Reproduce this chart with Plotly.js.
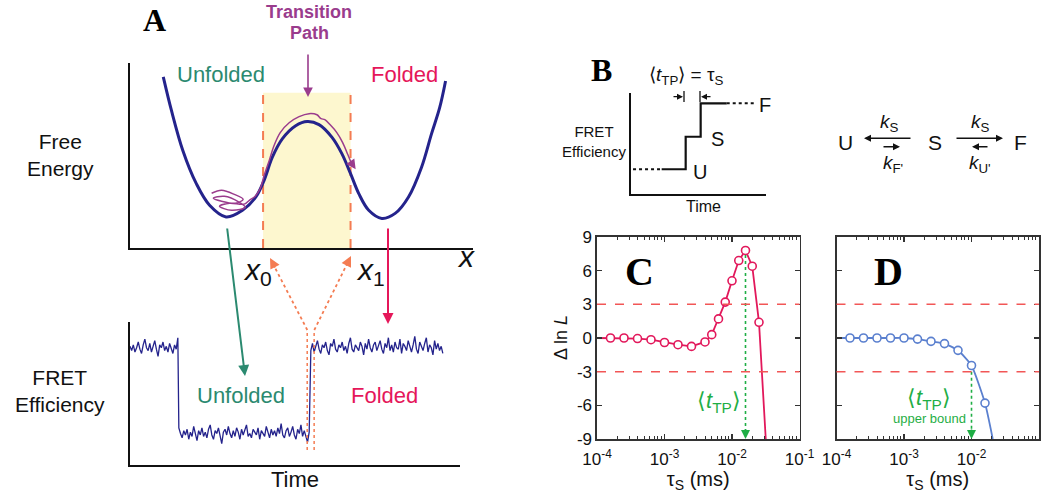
<!DOCTYPE html>
<html><head><meta charset="utf-8">
<script src="https://cdn.plot.ly/plotly-3.0.1.min.js"></script>
<style>html,body{margin:0;padding:0;background:#fff}#chart{width:1050px;height:493px}</style>
</head><body><div id="chart"></div>
<script>
// ---------- Panel A (top): free-energy profile, arbitrary units ----------
const wellX = [9.7,12.1,15.4,19.3,23.2,28.0,32.8,36.7,39.1,41.5,44.4,48.3,51.7,55.1,58.9,61.8,64.3,66.7,69.6,73.4,77.3,81.2,85.0,87.9,90.3,92.0];
const wellG = [92.5,74.2,52.7,34.9,23.1,16.8,20.4,27.6,36.6,49.1,59.0,66.1,68.4,66.7,59.8,50.9,40.2,29.4,20.4,16.0,18.7,27.6,43.7,61.7,76.0,90.3];
const pathX = [23.8,26.7,30.4,33.0,30.7,26.7,24.3,27.5,31.9,33.6,29.6,26.1,29.0,33.3,34.8,36.5,38.0,39.1,40.6,42.0,43.8,46.4,49.3,52.2,54.5,55.7,56.8,58.3,60.3,62.0,63.5,64.9];
const pathG = [29.6,31.2,29.0,26.3,24.2,25.3,26.9,28.0,24.7,22.0,20.4,22.6,24.2,23.7,25.8,28.0,32.3,39.2,47.3,55.4,62.4,67.7,71.0,72.6,72.0,69.9,69.4,66.7,62.4,57.0,50.5,44.0];
const barrierEdges = [38.8, 64.3];   // x0, x1
const barrierTop = 83.9;

// ---------- Panel A (bottom): FRET efficiency trace ----------
const dt = 0.5;
const tStart1 = 0, tStart2 = 14.8, tStart3 = 54.8;
const fretHigh1 = [0.83,0.80,0.84,0.79,0.82,0.86,0.81,0.78,0.84,0.88,0.82,0.80,0.85,0.79,0.83,0.87,0.81,0.76,0.84,0.82,0.86,0.80,0.83,0.79,0.85,0.82,0.78,0.84,0.81,0.89];
const fretLow = [0.26,0.22,0.19,0.24,0.21,0.25,0.18,0.23,0.20,0.27,0.22,0.17,0.24,0.21,0.26,0.20,0.23,0.19,0.25,0.28,0.21,0.18,0.24,0.22,0.26,0.20,0.15,0.23,0.25,0.21,0.27,0.22,0.19,0.24,0.20,0.26,0.23,0.18,0.25,0.21,0.24,0.28,0.20,0.22,0.19,0.25,0.23,0.21,0.26,0.18,0.24,0.22,0.20,0.27,0.23,0.19,0.25,0.21,0.24,0.20,0.26,0.22,0.29,0.21,0.19,0.24,0.26,0.20,0.23,0.27,0.21,0.18,0.25,0.22,0.28,0.20,0.24,0.19,0.16,0.23];
const fretHigh2 = [0.80,0.85,0.79,0.83,0.87,0.81,0.78,0.84,0.82,0.86,0.80,0.77,0.85,0.83,0.88,0.81,0.79,0.84,0.82,0.86,0.80,0.83,0.78,0.85,0.89,0.81,0.79,0.84,0.82,0.80,0.86,0.83,0.77,0.85,0.81,0.88,0.82,0.79,0.84,0.86,0.80,0.83,0.87,0.81,0.78,0.85,0.82,0.89,0.80,0.84,0.79,0.86,0.82,0.81,0.88,0.78,0.85,0.83,0.80,0.87,0.82,0.79,0.84,0.90,0.81,0.78,0.86,0.83,0.80,0.85,0.89,0.79,0.84,0.82,0.77,0.87,0.81,0.85,0.80,0.83,0.78];
const jumpWindow = [53.7, 55.8];

// ---------- Panel B: step schematic and scheme ----------
const stepT = [22.7,40.5,40.5,51.6,51.6,70.9];
const stepE = [24.5,24.5,56.7,56.7,89.8,89.8];
const preT = [1.5,22.7], postT = [70.9,91.9];

// ---------- Panel C ----------
const tauC = [1.585e-4,2.512e-4,3.981e-4,6.310e-4,1.0e-3,1.585e-3,2.512e-3,3.981e-3,5.012e-3,6.310e-3,7.943e-3,1.0e-2,1.259e-2,1.585e-2,1.995e-2,2.512e-2];
const dlnLC = [0.0,0.0,-0.05,-0.15,-0.4,-0.6,-0.75,-0.35,0.3,1.7,3.2,5.1,6.9,7.8,6.4,1.4];
const tauCEnds = [1e-4, 3.162e-2];
const dlnLCEnds = [0.0, -9.0];
// ---------- Panel D ----------
const tauD = [1.585e-4,2.512e-4,3.981e-4,6.310e-4,1.0e-3,1.585e-3,2.512e-3,3.981e-3,6.310e-3,1.0e-2,1.585e-2];
const dlnLD = [0.0,0.0,0.0,0.0,0.0,-0.1,-0.3,-0.5,-1.1,-2.45,-5.8];
const tauDEnds = [1e-4, 2.065e-2];
const dlnLDEnds = [0.0, -9.0];
const threshold = [3, -3];
const xTickVals = [1e-4,1e-3,1e-2,1e-1];
const xTickText = ['10<sup>-4</sup>','10<sup>-3</sup>','10<sup>-2</sup>','10<sup>-1</sup>'];
const yTickVals = [-9,-6,-3,0,3,6,9];
const yTickText = ['-9','-6','-3','0','3','6','9'];

// ---------- helpers ----------
const W = 1050, H = 493;
const X = p => p / W, Y = p => 1 - p / H;
const SANS = 'Liberation Sans, Arial, sans-serif';
const SERIF = 'Liberation Serif, Times New Roman, serif';
const NAVY = '#24238c', PURPLE = '#9a3c8d', TEAL = '#2b8a70', RED = '#e5175a', ORANGE = '#f47c52', GREEN = '#1fae45';
const CRED = '#e2185b', CBLUE = '#5b80cf';

const seq = (start, n) => Array.from({length: n}, (_, i) => +(start + i * dt).toFixed(2));
const fretT = [].concat(seq(tStart1, fretHigh1.length), seq(tStart2, fretLow.length), seq(tStart3, fretHigh2.length));
const fretE = [].concat(fretHigh1, fretLow, fretHigh2);

const minorVals = [];
[1e-4,1e-3,1e-2].forEach(d => { for (let k = 2; k <= 9; k++) minorVals.push(k * d); });

const traces = [
  {x: wellX, y: wellG, xaxis: 'x', yaxis: 'y', mode: 'lines', line: {color: NAVY, width: 3, shape: 'spline', smoothing: 1}},
  {x: pathX, y: pathG, xaxis: 'x', yaxis: 'y', mode: 'lines', line: {color: PURPLE, width: 1.5, shape: 'spline', smoothing: 1}},
  {x: fretT, y: fretE, xaxis: 'x2', yaxis: 'y2', mode: 'lines', line: {color: NAVY, width: 1.3}},
  {x: stepT, y: stepE, xaxis: 'x3', yaxis: 'y3', mode: 'lines', line: {color: '#111', width: 2.2}},
  {x: preT, y: [stepE[0], stepE[0]], xaxis: 'x3', yaxis: 'y3', mode: 'lines', line: {color: '#111', width: 2, dash: 'dot'}},
  {x: postT, y: [stepE[5], stepE[5]], xaxis: 'x3', yaxis: 'y3', mode: 'lines', line: {color: '#111', width: 2, dash: 'dot'}},
  // C
  {x: [tauCEnds[0]].concat(tauC, [tauCEnds[1]]), y: [dlnLCEnds[0]].concat(dlnLC, [dlnLCEnds[1]]), xaxis: 'x4', yaxis: 'y4', mode: 'lines', line: {color: CRED, width: 1.8}},
  {x: tauC, y: dlnLC, xaxis: 'x4', yaxis: 'y4', mode: 'markers', marker: {symbol: 'circle', size: 8, color: 'white', line: {color: CRED, width: 1.6}}},
  // D
  {x: [tauDEnds[0]].concat(tauD, [tauDEnds[1]]), y: [dlnLDEnds[0]].concat(dlnLD, [dlnLDEnds[1]]), xaxis: 'x5', yaxis: 'y5', mode: 'lines', line: {color: CBLUE, width: 1.8, shape: 'spline', smoothing: 0.5}},
  {x: tauD, y: dlnLD, xaxis: 'x5', yaxis: 'y5', mode: 'markers', marker: {symbol: 'circle', size: 8, color: 'white', line: {color: CBLUE, width: 1.6}}}
];

// green dotted markers: C at the peak, D where curve crosses -3
const iPeak = dlnLC.indexOf(Math.max(...dlnLC));
const tPeak = tauC[iPeak];
const tUpper = tauD[dlnLD.findIndex(v => v < threshold[1] + 1)];
traces.push({x: [tPeak, tPeak], y: [dlnLC[iPeak] - 0.4, -8.6], xaxis: 'x4', yaxis: 'y4', mode: 'lines', line: {color: GREEN, width: 1.6, dash: 'dot'}});
traces.push({x: [tUpper, tUpper], y: [threshold[1], -8.6], xaxis: 'x5', yaxis: 'y5', mode: 'lines', line: {color: GREEN, width: 1.6, dash: 'dot'}});

const plainAxis = extra => Object.assign({showgrid: false, zeroline: false, showticklabels: false, ticks: '', showline: true, linecolor: '#111', linewidth: 2, fixedrange: true, automargin: false}, extra);
const logAxis = (dom, anchor) => ({
  domain: dom, anchor: anchor, type: 'log', range: [-4, -1], showline: true, linecolor: '#333', linewidth: 1.6,
  mirror: 'allticks', ticks: 'inside', ticklen: 5, tickwidth: 1.2, tickcolor: '#333', ticklabelstandoff: 4,
  tickvals: xTickVals, ticktext: xTickText, tickfont: {family: SANS, size: 17, color: '#111'},
  showgrid: false, zeroline: false, automargin: false,
  minor: {tickmode: 'array', tickvals: minorVals, ticks: 'inside', ticklen: 3, tickwidth: 1, tickcolor: '#333', showgrid: false},
  title: {text: 'τ<sub>S</sub> (ms)', font: {family: SANS, size: 20, color: '#111'}, standoff: 5}
});
const linAxisCD = (dom, anchor, labels) => ({
  domain: dom, anchor: anchor, range: [-9, 9], showline: true, linecolor: '#333', linewidth: 1.6,
  mirror: 'ticks', ticks: 'inside', ticklen: 5, tickwidth: 1.2, tickcolor: '#333',
  tickvals: yTickVals, ticktext: yTickText, showticklabels: labels, tickfont: {family: SANS, size: 17, color: '#111'},
  showgrid: false, zeroline: false, automargin: false
});

const shapes = [
  {type: 'rect', xref: 'x', yref: 'y', x0: barrierEdges[0], x1: barrierEdges[1], y0: 0, y1: barrierTop, fillcolor: '#fdf7cf', line: {width: 0}, layer: 'below'},
  {type: 'line', xref: 'x', yref: 'y', x0: barrierEdges[0], x1: barrierEdges[0], y0: 0, y1: barrierTop, line: {color: ORANGE, width: 2, dash: 'dash'}, layer: 'below'},
  {type: 'line', xref: 'x', yref: 'y', x0: barrierEdges[1], x1: barrierEdges[1], y0: 0, y1: barrierTop, line: {color: ORANGE, width: 2, dash: 'dash'}, layer: 'below'},
  {type: 'line', xref: 'x2', yref: 'y2', x0: jumpWindow[0], x1: jumpWindow[0], y0: 0.105, y1: 0.944, line: {color: ORANGE, width: 1.5, dash: 'dot'}},
  {type: 'line', xref: 'x2', yref: 'y2', x0: jumpWindow[1], x1: jumpWindow[1], y0: 0.105, y1: 0.944, line: {color: ORANGE, width: 1.5, dash: 'dot'}},
  {type: 'line', xref: 'paper', yref: 'paper', x0: X(307.3), y0: Y(330), x1: X(272), y1: Y(262), line: {color: ORANGE, width: 1.8, dash: 'dot'}},
  {type: 'line', xref: 'paper', yref: 'paper', x0: X(314.3), y0: Y(330), x1: X(349), y1: Y(260), line: {color: ORANGE, width: 1.8, dash: 'dot'}},
  // B small bars
  {type: 'line', xref: 'paper', yref: 'paper', x0: X(684), x1: X(684), y0: Y(91), y1: Y(102), line: {color: '#111', width: 1.3}},
  {type: 'line', xref: 'paper', yref: 'paper', x0: X(700), x1: X(700), y0: Y(91), y1: Y(102), line: {color: '#111', width: 1.3}}
];
threshold.forEach(v => {
  ['x4', 'x5'].forEach((xa, i) => shapes.push({type: 'line', xref: xa + ' domain', yref: i ? 'y5' : 'y4', x0: 0, x1: 1, y0: v, y1: v, line: {color: '#f25656', width: 1.5, dash: 'dash'}}));
});

const ann = [];
function txt(px, py, text, size, color, extra) {
  ann.push(Object.assign({xref: 'paper', yref: 'paper', x: X(px), y: Y(py), text: text, showarrow: false, xanchor: 'center', yanchor: 'middle', font: {family: SANS, size: size, color: color || '#111'}}, extra || {}));
}
function arrow(hx, hy, tx, ty, color, width, size) {
  ann.push({xref: 'paper', yref: 'paper', x: X(hx), y: Y(hy), ax: tx - hx, ay: ty - hy, text: '', showarrow: true, arrowhead: 2, arrowsize: size, arrowwidth: width, arrowcolor: color, standoff: 0, startstandoff: 0});
}
// Panel A
txt(154, 20, '<b>A</b>', 32, '#000', {font: {family: SERIF, size: 32, color: '#000'}});
txt(309, 12, '<b>Transition</b>', 18, PURPLE);
txt(309, 33, '<b>Path</b>', 18, PURPLE);
txt(221, 74, 'Unfolded', 22, TEAL);
txt(404, 74, 'Folded', 22, RED);
txt(60, 155, 'Free<br>Energy', 21, '#111');
txt(60, 391, 'FRET<br>Efficiency', 21, '#111');
txt(466, 256, '<i>x</i>', 30, '#111');
txt(257, 271, '<i>x</i><sub>0</sub>', 30, '#111');
txt(370, 271, '<i>x</i><sub>1</sub>', 30, '#111');
txt(241, 395, 'Unfolded', 22, TEAL);
txt(384, 395, 'Folded', 22, RED);
txt(295, 479, 'Time', 22, '#111');
arrow(308, 97, 308, 53, PURPLE, 1.6, 1.2);
arrow(245, 376, 227, 227, TEAL, 2, 1.1);
arrow(388, 324, 388, 227, RED, 2, 1.1);
arrow(270, 258, 276, 269, ORANGE, 1.6, 1.3);
arrow(351, 256, 345.5, 267, ORANGE, 1.6, 1.3);
ann.push({xref: 'x', yref: 'y', x: 65.8, y: 42.5, ax: -6, ay: -9, text: '', showarrow: true, arrowhead: 2, arrowsize: 1.3, arrowwidth: 1.5, arrowcolor: PURPLE, standoff: 0});
// Panel B
txt(601, 70, '<b>B</b>', 32, '#000', {font: {family: SERIF, size: 32, color: '#000'}});
txt(686, 76, '⟨<i>t</i><sub>TP</sub>⟩ = τ<sub>S</sub>', 19, '#111');
txt(594, 141, 'FRET<br>Efficiency', 15, '#111');
txt(703, 207, 'Time', 16, '#111');
txt(765, 105, 'F', 20, '#111');
txt(717, 139, 'S', 20, '#111');
txt(700, 172, 'U', 20, '#111');
arrow(683, 96.7, 672, 96.7, '#111', 1.2, 1);
arrow(701, 96.7, 712, 96.7, '#111', 1.2, 1);
txt(845, 143, 'U', 21, '#111');
txt(935, 143, 'S', 21, '#111');
txt(1020, 143, 'F', 21, '#111');
txt(889, 123, '<i>k</i><sub>S</sub>', 19, '#111');
txt(980, 123, '<i>k</i><sub>S</sub>', 19, '#111');
txt(893, 164, "<i>k</i><sub>F'</sub>", 19, '#111');
txt(980, 164, "<i>k</i><sub>U'</sub>", 19, '#111');
arrow(864, 138.3, 912, 138.3, '#111', 1.4, 1);
arrow(1003, 138.3, 955, 138.3, '#111', 1.4, 1);
arrow(900, 146.7, 882, 146.7, '#111', 1.4, 1);
arrow(972, 146.7, 989, 146.7, '#111', 1.4, 1);
// Panels C, D
txt(639, 271, '<b>C</b>', 40, '#000', {font: {family: SERIF, size: 40, color: '#000'}});
txt(888, 271, '<b>D</b>', 40, '#000', {font: {family: SERIF, size: 40, color: '#000'}});
txt(561, 338, 'Δ ln <i>L</i>', 18, '#111', {textangle: -90});
txt(719, 402, '⟨<i>t</i><sub>TP</sub>⟩', 22, GREEN);
txt(929, 399, '⟨<i>t</i><sub>TP</sub>⟩', 22, GREEN);
txt(929, 418, 'upper bound', 13, GREEN);
ann.push({xref: 'x4', yref: 'y4', x: Math.log10(tPeak), y: -9, ax: 0, ay: -11, text: '', showarrow: true, arrowhead: 2, arrowsize: 1.2, arrowwidth: 1.5, arrowcolor: GREEN, standoff: 0});
ann.push({xref: 'x5', yref: 'y5', x: Math.log10(tUpper), y: -9, ax: 0, ay: -11, text: '', showarrow: true, arrowhead: 2, arrowsize: 1.2, arrowwidth: 1.5, arrowcolor: GREEN, standoff: 0});

const layout = {
  width: W, height: H, margin: {l: 0, r: 0, t: 0, b: 0}, showlegend: false,
  paper_bgcolor: '#fff', plot_bgcolor: 'rgba(0,0,0,0)',
  xaxis: plainAxis({domain: [X(130), X(473)], range: [0, 100], anchor: 'y'}),
  yaxis: plainAxis({domain: [Y(248), Y(63)], range: [0, 100], anchor: 'x'}),
  xaxis2: plainAxis({domain: [X(130), X(460)], range: [0, 100], anchor: 'y2'}),
  yaxis2: plainAxis({domain: [Y(465), Y(322)], range: [0, 1], anchor: 'x2'}),
  xaxis3: plainAxis({domain: [X(631), X(766)], range: [0, 100], anchor: 'y3'}),
  yaxis3: plainAxis({domain: [Y(194), Y(93)], range: [0, 100], anchor: 'x3'}),
  xaxis4: logAxis([X(597), X(799.5)], 'y4'),
  yaxis4: linAxisCD([Y(439), Y(237)], 'x4', true),
  xaxis5: logAxis([X(836.5), X(1039)], 'y5'),
  yaxis5: linAxisCD([Y(439), Y(237)], 'x5', false),
  shapes: shapes, annotations: ann
};
Plotly.newPlot('chart', traces, layout, {staticPlot: true, displayModeBar: false});
</script></body></html>
